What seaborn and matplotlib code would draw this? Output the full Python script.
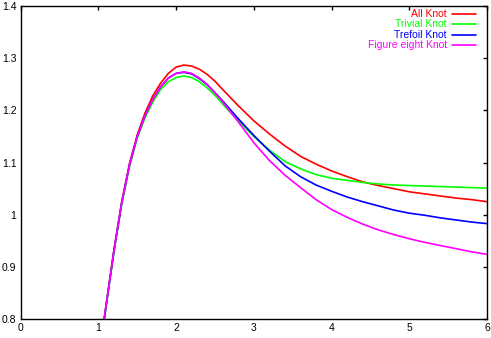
import matplotlib
matplotlib.use('Agg')
import matplotlib.pyplot as plt
from matplotlib.ticker import FuncFormatter, MultipleLocator
import pandas as pd
import seaborn as sns

# valores
x = [1.0, 1.1, 1.2, 1.3, 1.4, 1.5, 1.6, 1.7, 1.8, 1.9, 2.0, 2.1, 2.2, 2.3, 2.4, 2.5, 2.6,
     2.8, 3.0, 3.2, 3.4, 3.6, 3.8, 4.0, 4.2, 4.4, 4.6, 4.8, 5.0, 5.2, 5.4, 5.6, 5.8, 6.0]

all_knot = [0.720, 0.828, 0.933, 1.025, 1.098, 1.153, 1.195, 1.228, 1.252, 1.271, 1.283, 1.287,
            1.285, 1.279, 1.269, 1.256, 1.240, 1.209, 1.180, 1.155, 1.132, 1.112, 1.097, 1.084,
            1.073, 1.063, 1.056, 1.050, 1.044, 1.040, 1.036, 1.032, 1.029, 1.025]
trivial_knot = [0.718, 0.825, 0.928, 1.020, 1.092, 1.147, 1.186, 1.216, 1.240, 1.255, 1.263, 1.266,
                1.263, 1.255, 1.243, 1.229, 1.212, 1.180, 1.150, 1.124, 1.102, 1.088, 1.077, 1.070,
                1.066, 1.062, 1.059, 1.057, 1.056, 1.055, 1.054, 1.053, 1.052, 1.051]
trefoil_knot = [0.719, 0.826, 0.930, 1.022, 1.095, 1.150, 1.190, 1.221, 1.245, 1.262, 1.271, 1.273,
                1.270, 1.261, 1.249, 1.234, 1.218, 1.184, 1.152, 1.122, 1.094, 1.073, 1.057, 1.045,
                1.034, 1.025, 1.017, 1.009, 1.003, 0.999, 0.994, 0.990, 0.986, 0.983]
fig8_knot = [0.720, 0.826, 0.930, 1.022, 1.095, 1.150, 1.190, 1.221, 1.245, 1.262, 1.271, 1.274,
             1.271, 1.262, 1.250, 1.234, 1.216, 1.178, 1.138, 1.104, 1.076, 1.052, 1.029, 1.010,
             0.995, 0.982, 0.971, 0.962, 0.954, 0.947, 0.941, 0.935, 0.929, 0.924]

nomes = ["All Knot", "Trivial Knot", "Trefoil Knot", "Figure eight Knot"]
cores = ["#ff0000", "#00ff00", "#0000ff", "#ff00ff"]
series = [all_knot, trivial_knot, trefoil_knot, fig8_knot]

# formato longo para o seaborn
linhas = []
for nome, ys in zip(nomes, series):
    for xi, yi in zip(x, ys):
        linhas.append({"x": xi, "y": yi, "knot": nome})
df = pd.DataFrame(linhas)

sns.set_style("white")
plt.rcParams['font.family'] = ['Liberation Sans', 'DejaVu Sans']

fig = plt.figure(figsize=(4.91, 3.38), dpi=100)
ax = fig.add_axes([0.042, 0.056, 0.950, 0.926])

sns.lineplot(data=df, x="x", y="y", hue="knot", hue_order=nomes,
             palette=dict(zip(nomes, cores)), linewidth=1.2, legend=False, ax=ax)

ax.set_xlim(0, 6)
ax.set_ylim(0.8, 1.4)
ax.xaxis.set_major_locator(MultipleLocator(1))
ax.yaxis.set_major_locator(MultipleLocator(0.1))
ax.xaxis.set_major_formatter(FuncFormatter(lambda v, p: f"{v:g}"))
ax.yaxis.set_major_formatter(FuncFormatter(lambda v, p: f"{round(v, 2):g}"))
ax.set_xlabel("")
ax.set_ylabel("")
ax.tick_params(direction='in', length=3, width=1, top=True, right=True,
               labelsize=7.5, pad=3, colors='black')
for s in ax.spines.values():
    s.set_color('black')
    s.set_linewidth(1.0)

# legenda estilo gnuplot: texto alinhado à direita, linha depois
ys_leg = [0.974, 0.942, 0.909, 0.877]
for nome, cor, yl in zip(nomes, cores, ys_leg):
    ax.text(0.914, yl, nome, color=cor, fontsize=7.5, ha='right', va='center',
            transform=ax.transAxes)
    ax.plot([0.925, 0.977], [yl, yl], color=cor, linewidth=1.2,
            transform=ax.transAxes, clip_on=False)

fig.savefig("out.png", dpi=100)
plt.close()
